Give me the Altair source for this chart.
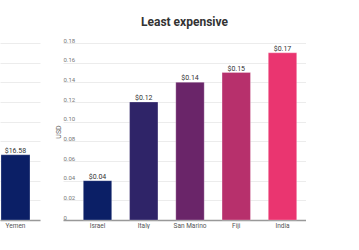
import altair as alt
import pandas as pd

# Most expensive (only the last bar of this panel is in view)
most_countries = ["Yemen"]
most_prices = [16.58]
most_colors = ["#0b1f66"]

# Least expensive
least_countries = ["Israel", "Italy", "San Marino", "Fiji", "India"]
least_prices = [0.04, 0.12, 0.14, 0.15, 0.17]
least_colors = ["#0b1f66", "#2f2468", "#6a2569", "#b7306c", "#ea3570"]

most_ticks = [0, 5, 10, 15, 20, 25, 30, 35, 40, 45]
least_ticks = [0, 0.02, 0.04, 0.06, 0.08, 0.10, 0.12, 0.14, 0.16, 0.18]

FONT = "Roboto"
GRID = "#ececec"
BASE = "#999999"

most_df = pd.DataFrame({"country": most_countries, "price": most_prices, "color": most_colors})
least_df = pd.DataFrame({"country": least_countries, "price": least_prices, "color": least_colors})


def panel(df, order, ticks, y_axis, x_scale, width, title=None):
    x = alt.X("country:N", sort=order, scale=x_scale,
              axis=alt.Axis(title=None, labelAngle=0, ticks=False, labelFontSize=6.5,
                            labelColor="#555555", labelFont=FONT, labelPadding=2,
                            domainColor=BASE, domainWidth=1.5))
    y = alt.Y("price:Q", scale=alt.Scale(domain=[ticks[0], ticks[-1]], nice=False), axis=y_axis)
    base = alt.Chart(df).encode(x=x, y=y)
    bars = base.mark_bar(strokeWidth=1, stroke="white", strokeOpacity=0.25).encode(
        color=alt.Color("color:N", scale=None)
    )
    labels = base.mark_text(baseline="bottom", dy=-1, fontSize=7, font=FONT, color="#333333").encode(
        text=alt.Text("label:N")
    ).transform_calculate(label="'$' + format(datum.price, '.2f')")
    props = dict(width=width, height=177)
    if title is not None:
        props["title"] = title
    return alt.layer(bars, labels).properties(**props)


most_axis = alt.Axis(values=most_ticks, labels=False, ticks=False, domain=False, title=None,
                     gridColor=GRID, gridWidth=1)
least_axis = alt.Axis(values=least_ticks, ticks=False, domain=False, gridColor=GRID, gridWidth=1,
                      labelAlign="left", labelBaseline="bottom", labelPadding=0, labelFontSize=6,
                      labelColor="#777777", labelFont=FONT,
                      labelExpr="datum.value == 0 ? '0' : format(datum.value, '.2f')",
                      title="USD", titleFontSize=7, titleFontWeight="normal", titleColor="#666666",
                      titleFont=FONT, titlePadding=2)

left = panel(most_df, most_countries, most_ticks, most_axis,
             alt.Scale(paddingInner=0.386, paddingOuter=0.1165, align=0.09), 40)
right = panel(least_df, least_countries, least_ticks, least_axis,
              alt.Scale(paddingInner=0.386, paddingOuter=0.32, align=0.686), 243,
              title=alt.TitleParams("Least expensive", fontSize=12, fontWeight="bold",
                                    color="#333333", font=FONT, offset=8, anchor="middle"))

chart = alt.hconcat(left, right, spacing=23, bounds="flush").properties(
    padding={"left": 0, "top": 16, "right": 0, "bottom": 0},
    background="white",
).configure_view(stroke=None)

chart.save("out.html", embed_options={"renderer": "svg", "actions": False})
